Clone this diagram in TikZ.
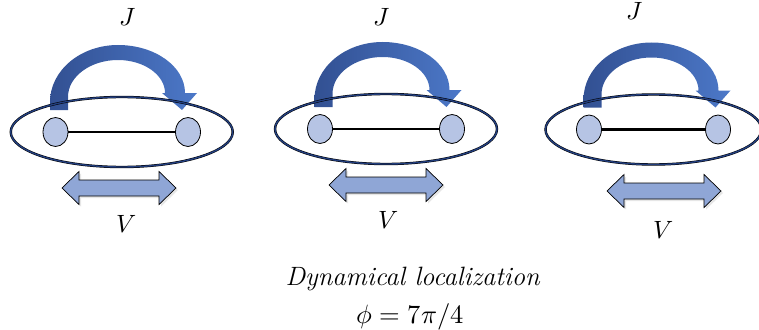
\documentclass[tikz,border=0pt]{standalone}
\usepackage{unicode-math}
\usepackage{tikz}
\usetikzlibrary{shapes.geometric,shadows}

\definecolor{siteFill}{RGB}{182,196,228}
\definecolor{ringBlue}{RGB}{34,62,126}
\definecolor{arrowDark}{RGB}{50,80,146}
\definecolor{arrowLight}{RGB}{76,120,200}
\definecolor{hopFill}{RGB}{143,166,214}

\tikzset{
  site/.style={ellipse, draw=black, line width=0.8pt, fill=siteFill,
    minimum width=25pt, minimum height=29pt, inner sep=0pt},
  ring/.style={ellipse, draw=black, line width=0.5pt, double=ringBlue,
    double distance=1.4pt, inner sep=0pt},
  bond/.style={line width=2.5pt},
  hop/.style={left color=arrowDark, right color=arrowLight},
  tunnel/.style={fill=hopFill, draw=black, line width=0.7pt,
    drop shadow={shadow xshift=2pt, shadow yshift=-2pt, opacity=0.2}},
  lbl/.style={font=\fontsize{25}{30}\selectfont, inner sep=0pt},
  caption/.style={font=\fontsize{26.5}{32}\selectfont, inner sep=0pt, anchor=base},
}

\begin{document}
\begin{tikzpicture}[x=1pt, y=-1pt]
  \clip (0,0) rectangle (759,329);

  % three double-well panels
  \foreach \p/\ox/\oy/\dr/\ew/\jx/\jy/\vx/\vy/\ax/\ay in {
      1/55.5/132/132.5/222/72.5/-115/70.5/92/63.5/56,
      2/320/129/132/222/62/-112/68/91/66/56,
      3/589/129.5/129/216/46/-118.5/74/100.5/75/61.5}{
    \begin{scope}[shift={(\ox,\oy)}]
      % hopping arrow J
      \shade[hop] (-5.5,-22) -- (-5.5,-30)
        .. controls (-5.5,-61.5) and (25,-87) .. (62.5,-87)
        .. controls (99.5,-87) and (129.5,-65.5) .. (129.5,-39)
        -- (141.5,-39) -- (126.5,-22) -- (106.5,-39) -- (109.5,-39)
        .. controls (109.5,-57) and (88.5,-72) .. (62.5,-72)
        .. controls (35,-72) and (12.5,-55.5) .. (12.5,-35) -- (12.5,-22) -- cycle;

      \node[ring, minimum width=\ew pt, minimum height=70pt] (e\p) at (\dr/2,0) {};
      \node[site] (l\p) at (0,0) {};
      \node[site] (r\p) at (\dr,0) {};
      \draw[bond] (l\p) -- (r\p);

      % tilt arrow V
      \draw[tunnel, shift={(\ax,\ay)}] (-57,0) -- (-40,-16.5) -- (-40,-8) -- (40,-8)
        -- (40,-16.5) -- (57,0) -- (40,16.5) -- (40,8) -- (-40,8) -- (-40,16.5) -- cycle;

      \node[lbl] (J\p) at (\jx,\jy) {$J$};
      \node[lbl] (V\p) at (\vx,\vy) {$V$};
    \end{scope}
  }

  \node[caption] (title) at (413,285) {\textit{Dynamical localization}};
  \node[caption] (phase) at (410,323) {$\phi = 7\pi/4$};
\end{tikzpicture}
\end{document}
